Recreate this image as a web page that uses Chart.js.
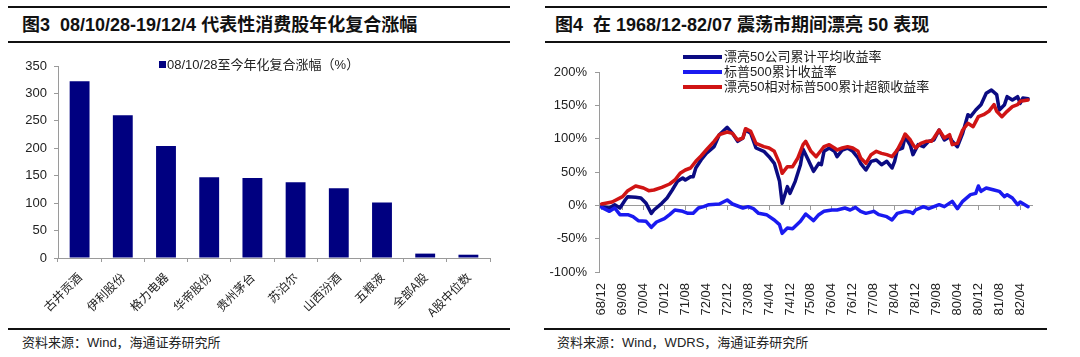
<!DOCTYPE html>
<html><head><meta charset="utf-8">
<script src="https://cdn.jsdelivr.net/npm/chart.js@4.4.1/dist/chart.umd.min.js"></script>
<style>
html,body{margin:0;padding:0;background:#fff;}
body{width:1080px;height:357px;position:relative;overflow:hidden;font-family:"Liberation Sans","Noto Sans CJK SC",sans-serif;color:#111;}
.rule{position:absolute;height:2px;background:#111;}
.title{position:absolute;font-weight:bold;font-size:18px;line-height:22px;white-space:nowrap;color:#111;}
.src{position:absolute;font-size:13px;line-height:16px;color:#222;white-space:nowrap;}
.legend{position:absolute;font-size:13px;line-height:15px;white-space:nowrap;color:#222;}
.lg-row{height:15px;display:flex;align-items:center;}
.lg-line{display:inline-block;width:39px;height:4px;margin-right:2px;}
.lg-sq{display:inline-block;width:7px;height:7px;background:#000080;margin-right:1px;vertical-align:1px;}
canvas{position:absolute;}
</style></head><body>

<div class="rule" style="left:8px;top:6px;width:502px;"></div>
<div class="rule" style="left:8px;top:41px;width:502px;"></div>
<div class="title" style="left:22px;top:14px;">图3&nbsp;&nbsp;08/10/28-19/12/4 代表性消费股年化复合涨幅</div>
<div class="rule" style="left:8px;top:328px;width:502px;"></div>
<div class="src" style="left:22px;top:335px;">资料来源：Wind，海通证券研究所</div>

<div class="rule" style="left:545px;top:6px;width:502px;"></div>
<div class="rule" style="left:545px;top:41px;width:502px;"></div>
<div class="title" style="left:555px;top:14px;">图4&nbsp;&nbsp;在 1968/12-82/07 震荡市期间漂亮 50 表现</div>
<div class="rule" style="left:544px;top:328px;width:503px;"></div>
<div class="src" style="left:557px;top:335px;">资料来源：Wind，WDRS，海通证券研究所</div>

<canvas id="bar" width="510" height="280" style="left:0px;top:50px;width:510px;height:280px;"></canvas>
<canvas id="line" width="510" height="280" style="left:540px;top:50px;width:510px;height:280px;"></canvas>

<div class="legend" id="barLegend" style="left:159px;top:57px;"></div>
<div class="legend" id="lineLegend" style="left:683px;top:49px;"></div>

<script>
// ---------- Figure 3 data ----------
const barCategories = ['古井贡酒','伊利股份','格力电器','华帝股份','贵州茅台','苏泊尔','山西汾酒','五粮液','全部A股','A股中位数'];
const barValues = [322,260,204,147,146,138,127,101,8,6];
const barSeriesName = '08/10/28至今年化复合涨幅（%）';

// ---------- Figure 4 data (month index from 68/12) ----------
const tickMonths = [0,8,16,24,32,40,48,56,64,72,80,88,96,104,112,120,128,136,144,152,160];
const tickLabels = ['68/12','69/08','70/04','70/12','71/08','72/04','72/12','73/08','74/04','74/12','75/08','76/04','76/12','77/08','78/04','78/12','79/08','80/04','80/12','81/08','82/04'];

const seriesNames = ['漂亮50公司累计平均收益率','标普500累计收益率','漂亮50相对标普500累计超额收益率'];

const navyMonths = [0,3,5,7,9,10,13,15,17,19,20,23,25,27,29,31,32,34,35,36,38,40,43,45,48,50,52,54,55,57,59,62,64,66,68,69,71,72,74,76,77,79,81,83,84,85,87,89,90,92,94,96,98,99,101,103,105,107,109,111,112,113,115,116,118,119,121,123,125,127,129,131,133,134,136,138,140,141,143,145,147,149,151,152,154,155,157,159,160,161,163];
const navyValues = [-2,-4,1,-4,8,13,12,11,3,-12,-7,3,11,23,36,41,38,43,43,56,68,78,88,106,117,108,96,101,113,108,86,81,73,63,36,3,28,18,36,61,84,68,51,63,61,81,86,81,73,83,86,81,71,63,53,66,68,61,66,56,66,83,86,103,90,76,91,88,96,98,113,98,103,96,88,108,136,133,143,151,168,173,166,143,151,163,158,163,153,161,160];

const blueMonths = [0,3,5,7,10,12,14,17,19,21,24,26,28,31,33,35,37,39,41,45,48,50,54,56,58,60,63,66,68,69,71,73,76,78,81,83,85,88,90,93,95,97,99,101,104,106,109,111,113,116,118,119,120,123,125,129,131,134,136,138,141,143,144,145,147,150,152,154,155,157,159,160,163];
const blueValues = [-3,-9,-4,-14,-14,-17,-23,-24,-33,-25,-20,-14,-7,-9,-12,-12,-4,-2,1,2,8,2,-4,-2,-5,-12,-14,-22,-29,-42,-34,-35,-24,-13,-23,-14,-9,-7,-7,-4,-7,-3,-9,-12,-9,-14,-17,-22,-12,-9,-10,-12,-7,-2,-5,1,-2,6,-5,6,16,18,29,21,26,23,21,13,16,11,1,5,-2];

const redMonths = [0,4,8,10,13,16,18,20,23,26,28,30,32,34,36,38,40,43,45,48,50,52,54,55,57,59,62,64,66,68,69,71,73,75,77,78,80,82,84,85,87,89,90,92,94,96,98,99,101,103,105,107,109,111,113,115,116,118,119,120,122,124,126,127,129,131,133,134,136,138,140,142,144,146,148,150,151,153,155,157,159,160,163];
const redValues = [2,5,13,22,29,26,22,23,27,32,38,48,53,56,66,74,83,96,106,110,108,98,101,115,111,93,88,86,81,63,48,58,58,71,91,96,81,73,83,88,91,86,83,86,88,86,81,71,63,76,81,78,76,73,83,98,107,98,91,86,93,96,96,101,113,101,106,91,93,113,123,118,133,136,141,151,141,133,141,148,151,156,158];

const NAVY = '#0b0b82', BLUE = '#1a1af0', RED = '#d01414', BAR = '#000080';
const AXIS = '#9a9a9a', TXT = '#222';
const LATIN = '"Liberation Sans", "Noto Sans CJK SC", sans-serif';
const CJK = '"Noto Sans CJK SC", sans-serif';

Chart.defaults.font.family = LATIN;
Chart.defaults.color = TXT;

// ---------- legends (HTML, real text) ----------
document.getElementById('barLegend').innerHTML = '<span class="lg-sq"></span>' + barSeriesName;
const lineColors = [NAVY, BLUE, RED];
document.getElementById('lineLegend').innerHTML = seriesNames.map((n,i)=>
  '<div class="lg-row"><span class="lg-line" style="background:'+lineColors[i]+'"></span>'+n+'</div>').join('');

// ---------- Figure 3: bar chart ----------
new Chart(document.getElementById('bar'), {
  type: 'bar',
  data: {
    labels: barCategories,
    datasets: [{ label: barSeriesName, data: barValues, backgroundColor: BAR,
      categoryPercentage: 1, barPercentage: 0.46 }]
  },
  options: {
    responsive: false, animation: false, devicePixelRatio: 1,
    layout: { padding: { top: 16, right: 20, left: 0, bottom: 0 } },
    plugins: { legend: { display: false }, tooltip: { enabled: false } },
    scales: {
      x: {
        grid: { drawOnChartArea: false, tickLength: 4, color: AXIS, offset: true },
        border: { color: AXIS },
        ticks: { minRotation: 45, maxRotation: 45, autoSkip: false, padding: 8,
          font: { size: 12, family: CJK }, color: TXT },
        afterFit: s => { s.height = 72; }
      },
      y: {
        min: 0, max: 350,
        ticks: { stepSize: 50, padding: 7, font: { size: 13 }, color: TXT },
        grid: { drawOnChartArea: false, tickLength: 4, color: AXIS },
        border: { color: AXIS },
        afterFit: s => { s.width = 58; }
      }
    }
  }
});

// ---------- Figure 4: line chart ----------
const toXY = (ms, vs) => ms.map((m, i) => ({ x: m, y: vs[i] }));
const setTicks = a => { a.ticks = tickMonths.map(v => ({ value: v })); };

new Chart(document.getElementById('line'), {
  type: 'line',
  data: {
    datasets: [
      { label: seriesNames[0], data: toXY(navyMonths, navyValues), borderColor: NAVY, order: 3 },
      { label: seriesNames[1], data: toXY(blueMonths, blueValues), borderColor: BLUE, order: 2 },
      { label: seriesNames[2], data: toXY(redMonths, redValues), borderColor: RED, order: 1 }
    ]
  },
  options: {
    responsive: false, animation: false, devicePixelRatio: 1,
    elements: { line: { borderWidth: 3.5, tension: 0, borderJoinStyle: 'round', borderCapStyle: 'round' }, point: { radius: 0 } },
    layout: { padding: { top: 22, right: 18, left: 0, bottom: 0 } },
    plugins: { legend: { display: false }, tooltip: { enabled: false } },
    scales: {
      x: {
        type: 'linear', position: 'bottom', min: -1, max: 164.5,
        afterBuildTicks: setTicks,
        ticks: { autoSkip: false, minRotation: 90, maxRotation: 90, padding: 11,
          font: { size: 13 }, color: TXT,
          callback: v => tickLabels[tickMonths.indexOf(v)] },
        grid: { drawOnChartArea: false, drawTicks: false },
        border: { display: false },
        afterFit: s => { s.height = 58; }
      },
      x2: {
        type: 'linear', axis: 'x', position: { y: 0 }, min: -1, max: 164.5,
        afterBuildTicks: setTicks,
        ticks: { display: false },
        grid: { drawOnChartArea: false, tickLength: 4, color: AXIS },
        border: { display: true, color: AXIS }
      },
      y: {
        min: -100, max: 200,
        ticks: { stepSize: 50, padding: 8, font: { size: 13 }, color: TXT, callback: v => v + '%' },
        grid: { drawOnChartArea: false, tickLength: 4, color: AXIS },
        border: { color: AXIS },
        afterFit: s => { s.width = 59; }
      }
    }
  }
});
</script>
</body></html>
